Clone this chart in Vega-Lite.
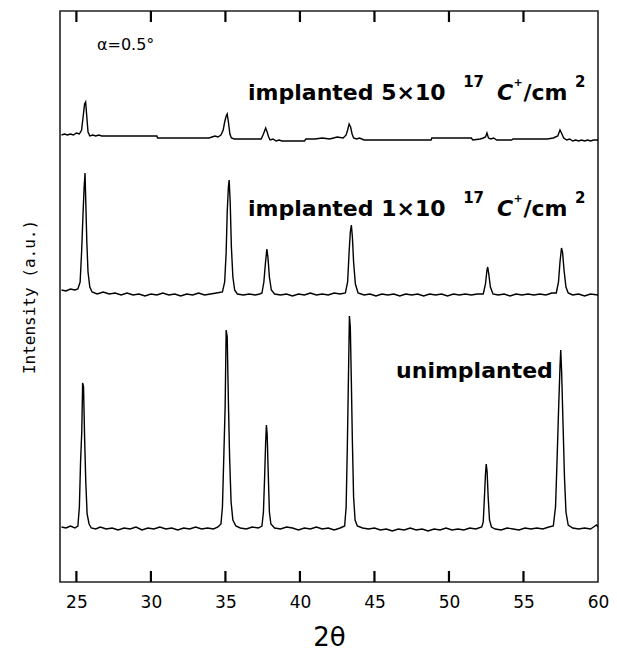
{
  "$schema": "https://vega.github.io/schema/vega-lite/v6.json",
  "width": 538,
  "height": 571,
  "autosize": {"type": "none"},
  "padding": {"left": 60, "top": 11, "right": 19, "bottom": 70},
  "background": "white",
  "config": {
    "view": {"stroke": "#222", "strokeWidth": 1.6},
    "font": "DejaVu Sans"
  },
  "datasets": {
    "xrd": [
      {"s":"u","t":24.0,"i":55},{"s":"u","t":24.3,"i":54},{"s":"u","t":24.6,"i":56},{"s":"u","t":24.9,"i":54},{"s":"u","t":25.1,"i":56},{"s":"u","t":25.2,"i":75},{"s":"u","t":25.28,"i":120},{"s":"u","t":25.36,"i":150},{"s":"u","t":25.42,"i":199},{"s":"u","t":25.48,"i":195},{"s":"u","t":25.55,"i":145},{"s":"u","t":25.63,"i":100},{"s":"u","t":25.72,"i":68},{"s":"u","t":25.85,"i":58},{"s":"u","t":26.0,"i":54},{"s":"u","t":26.3,"i":53},{"s":"u","t":26.6,"i":55},{"s":"u","t":27.0,"i":53},{"s":"u","t":27.4,"i":54},{"s":"u","t":27.8,"i":52},{"s":"u","t":28.2,"i":54},{"s":"u","t":28.6,"i":53},{"s":"u","t":29.0,"i":55},{"s":"u","t":29.4,"i":52},{"s":"u","t":29.8,"i":54},{"s":"u","t":30.2,"i":53},{"s":"u","t":30.6,"i":55},{"s":"u","t":31.0,"i":53},{"s":"u","t":31.4,"i":54},{"s":"u","t":31.8,"i":52},{"s":"u","t":32.2,"i":54},{"s":"u","t":32.6,"i":53},{"s":"u","t":33.0,"i":55},{"s":"u","t":33.4,"i":53},{"s":"u","t":33.8,"i":54},{"s":"u","t":34.2,"i":53},{"s":"u","t":34.5,"i":55},{"s":"u","t":34.7,"i":58},{"s":"u","t":34.8,"i":75},{"s":"u","t":34.9,"i":130},{"s":"u","t":34.98,"i":175},{"s":"u","t":35.05,"i":252},{"s":"u","t":35.12,"i":245},{"s":"u","t":35.2,"i":180},{"s":"u","t":35.28,"i":125},{"s":"u","t":35.38,"i":80},{"s":"u","t":35.5,"i":62},{"s":"u","t":35.7,"i":56},{"s":"u","t":36.0,"i":54},{"s":"u","t":36.4,"i":53},{"s":"u","t":36.8,"i":55},{"s":"u","t":37.2,"i":54},{"s":"u","t":37.45,"i":56},{"s":"u","t":37.55,"i":70},{"s":"u","t":37.63,"i":105},{"s":"u","t":37.7,"i":140},{"s":"u","t":37.75,"i":157},{"s":"u","t":37.8,"i":148},{"s":"u","t":37.87,"i":110},{"s":"u","t":37.95,"i":70},{"s":"u","t":38.05,"i":58},{"s":"u","t":38.3,"i":54},{"s":"u","t":38.7,"i":53},{"s":"u","t":39.1,"i":55},{"s":"u","t":39.5,"i":54},{"s":"u","t":39.9,"i":52},{"s":"u","t":40.3,"i":54},{"s":"u","t":40.7,"i":53},{"s":"u","t":41.1,"i":55},{"s":"u","t":41.5,"i":53},{"s":"u","t":41.9,"i":54},{"s":"u","t":42.3,"i":52},{"s":"u","t":42.7,"i":54},{"s":"u","t":43.0,"i":56},{"s":"u","t":43.1,"i":75},{"s":"u","t":43.18,"i":135},{"s":"u","t":43.25,"i":200},{"s":"u","t":43.32,"i":266},{"s":"u","t":43.38,"i":255},{"s":"u","t":43.45,"i":200},{"s":"u","t":43.52,"i":140},{"s":"u","t":43.6,"i":85},{"s":"u","t":43.7,"i":62},{"s":"u","t":43.85,"i":56},{"s":"u","t":44.2,"i":54},{"s":"u","t":44.6,"i":53},{"s":"u","t":45.0,"i":54},{"s":"u","t":45.4,"i":52},{"s":"u","t":45.8,"i":53},{"s":"u","t":46.2,"i":51},{"s":"u","t":46.6,"i":53},{"s":"u","t":47.0,"i":52},{"s":"u","t":47.4,"i":54},{"s":"u","t":47.8,"i":52},{"s":"u","t":48.2,"i":53},{"s":"u","t":48.6,"i":51},{"s":"u","t":49.0,"i":53},{"s":"u","t":49.4,"i":52},{"s":"u","t":49.8,"i":54},{"s":"u","t":50.2,"i":52},{"s":"u","t":50.6,"i":53},{"s":"u","t":51.0,"i":52},{"s":"u","t":51.4,"i":54},{"s":"u","t":51.8,"i":53},{"s":"u","t":52.2,"i":55},{"s":"u","t":52.3,"i":60},{"s":"u","t":52.38,"i":85},{"s":"u","t":52.45,"i":108},{"s":"u","t":52.5,"i":118},{"s":"u","t":52.56,"i":110},{"s":"u","t":52.63,"i":85},{"s":"u","t":52.72,"i":62},{"s":"u","t":52.85,"i":55},{"s":"u","t":53.1,"i":53},{"s":"u","t":53.5,"i":52},{"s":"u","t":53.9,"i":54},{"s":"u","t":54.3,"i":53},{"s":"u","t":54.7,"i":52},{"s":"u","t":55.1,"i":54},{"s":"u","t":55.5,"i":53},{"s":"u","t":55.9,"i":54},{"s":"u","t":56.3,"i":53},{"s":"u","t":56.7,"i":55},{"s":"u","t":57.0,"i":56},{"s":"u","t":57.15,"i":75},{"s":"u","t":57.25,"i":120},{"s":"u","t":57.35,"i":170},{"s":"u","t":57.45,"i":215},{"s":"u","t":57.5,"i":232},{"s":"u","t":57.56,"i":210},{"s":"u","t":57.65,"i":160},{"s":"u","t":57.75,"i":105},{"s":"u","t":57.85,"i":70},{"s":"u","t":58.0,"i":57},{"s":"u","t":58.3,"i":54},{"s":"u","t":58.7,"i":53},{"s":"u","t":59.1,"i":54},{"s":"u","t":59.5,"i":53},{"s":"u","t":59.8,"i":56},{"s":"u","t":59.9,"i":57},{"s":"u","t":60.0,"i":55},
      {"s":"m","t":24.0,"i":292},{"s":"m","t":24.3,"i":291},{"s":"m","t":24.6,"i":293},{"s":"m","t":24.9,"i":292},{"s":"m","t":25.1,"i":293},{"s":"m","t":25.25,"i":300},{"s":"m","t":25.35,"i":330},{"s":"m","t":25.45,"i":370},{"s":"m","t":25.52,"i":395},{"s":"m","t":25.58,"i":409},{"s":"m","t":25.63,"i":380},{"s":"m","t":25.7,"i":340},{"s":"m","t":25.78,"i":310},{"s":"m","t":25.9,"i":295},{"s":"m","t":26.05,"i":290},{"s":"m","t":26.4,"i":288},{"s":"m","t":26.8,"i":290},{"s":"m","t":27.2,"i":288},{"s":"m","t":27.6,"i":289},{"s":"m","t":28.0,"i":287},{"s":"m","t":28.4,"i":289},{"s":"m","t":28.8,"i":287},{"s":"m","t":29.2,"i":288},{"s":"m","t":29.6,"i":286},{"s":"m","t":30.0,"i":288},{"s":"m","t":30.4,"i":287},{"s":"m","t":30.8,"i":289},{"s":"m","t":31.2,"i":287},{"s":"m","t":31.6,"i":288},{"s":"m","t":32.0,"i":286},{"s":"m","t":32.4,"i":288},{"s":"m","t":32.8,"i":287},{"s":"m","t":33.2,"i":289},{"s":"m","t":33.6,"i":287},{"s":"m","t":34.0,"i":288},{"s":"m","t":34.4,"i":289},{"s":"m","t":34.8,"i":290},{"s":"m","t":34.95,"i":300},{"s":"m","t":35.05,"i":330},{"s":"m","t":35.12,"i":370},{"s":"m","t":35.2,"i":395},{"s":"m","t":35.25,"i":402},{"s":"m","t":35.32,"i":380},{"s":"m","t":35.4,"i":335},{"s":"m","t":35.5,"i":305},{"s":"m","t":35.62,"i":292},{"s":"m","t":35.8,"i":288},{"s":"m","t":36.2,"i":287},{"s":"m","t":36.6,"i":288},{"s":"m","t":37.0,"i":287},{"s":"m","t":37.3,"i":288},{"s":"m","t":37.45,"i":289},{"s":"m","t":37.58,"i":300},{"s":"m","t":37.68,"i":318},{"s":"m","t":37.78,"i":333},{"s":"m","t":37.85,"i":325},{"s":"m","t":37.95,"i":305},{"s":"m","t":38.08,"i":292},{"s":"m","t":38.3,"i":288},{"s":"m","t":38.7,"i":287},{"s":"m","t":39.1,"i":288},{"s":"m","t":39.5,"i":286},{"s":"m","t":39.9,"i":288},{"s":"m","t":40.3,"i":287},{"s":"m","t":40.7,"i":289},{"s":"m","t":41.1,"i":287},{"s":"m","t":41.5,"i":288},{"s":"m","t":41.9,"i":287},{"s":"m","t":42.3,"i":289},{"s":"m","t":42.7,"i":288},{"s":"m","t":43.05,"i":289},{"s":"m","t":43.2,"i":300},{"s":"m","t":43.3,"i":330},{"s":"m","t":43.38,"i":350},{"s":"m","t":43.45,"i":357},{"s":"m","t":43.52,"i":345},{"s":"m","t":43.6,"i":320},{"s":"m","t":43.72,"i":298},{"s":"m","t":43.9,"i":289},{"s":"m","t":44.3,"i":287},{"s":"m","t":44.7,"i":288},{"s":"m","t":45.1,"i":286},{"s":"m","t":45.5,"i":288},{"s":"m","t":45.9,"i":287},{"s":"m","t":46.3,"i":288},{"s":"m","t":46.7,"i":286},{"s":"m","t":47.1,"i":288},{"s":"m","t":47.5,"i":287},{"s":"m","t":47.9,"i":288},{"s":"m","t":48.3,"i":286},{"s":"m","t":48.7,"i":288},{"s":"m","t":49.1,"i":287},{"s":"m","t":49.5,"i":288},{"s":"m","t":49.9,"i":286},{"s":"m","t":50.3,"i":288},{"s":"m","t":50.7,"i":287},{"s":"m","t":51.1,"i":288},{"s":"m","t":51.5,"i":287},{"s":"m","t":51.9,"i":288},{"s":"m","t":52.3,"i":288},{"s":"m","t":52.45,"i":298},{"s":"m","t":52.55,"i":312},{"s":"m","t":52.6,"i":315},{"s":"m","t":52.67,"i":308},{"s":"m","t":52.78,"i":295},{"s":"m","t":52.95,"i":288},{"s":"m","t":53.3,"i":287},{"s":"m","t":53.7,"i":288},{"s":"m","t":54.1,"i":286},{"s":"m","t":54.5,"i":288},{"s":"m","t":54.9,"i":287},{"s":"m","t":55.3,"i":288},{"s":"m","t":55.7,"i":287},{"s":"m","t":56.1,"i":288},{"s":"m","t":56.5,"i":287},{"s":"m","t":56.9,"i":289},{"s":"m","t":57.2,"i":289},{"s":"m","t":57.35,"i":300},{"s":"m","t":57.45,"i":320},{"s":"m","t":57.55,"i":334},{"s":"m","t":57.62,"i":330},{"s":"m","t":57.72,"i":312},{"s":"m","t":57.85,"i":295},{"s":"m","t":58.0,"i":289},{"s":"m","t":58.3,"i":287},{"s":"m","t":58.7,"i":288},{"s":"m","t":59.1,"i":286},{"s":"m","t":59.5,"i":288},{"s":"m","t":60.0,"i":287},
      {"s":"t","t":24.0,"i":447},{"s":"t","t":24.2,"i":448},{"s":"t","t":24.4,"i":447},{"s":"t","t":24.6,"i":448},{"s":"t","t":24.8,"i":447},{"s":"t","t":25.0,"i":449},{"s":"t","t":25.2,"i":448},{"s":"t","t":25.35,"i":452},{"s":"t","t":25.45,"i":465},{"s":"t","t":25.55,"i":478},{"s":"t","t":25.62,"i":480},{"s":"t","t":25.7,"i":465},{"s":"t","t":25.78,"i":450},{"s":"t","t":25.9,"i":446},{"s":"t","t":26.1,"i":447},{"s":"t","t":26.3,"i":446},{"s":"t","t":26.5,"i":447},{"s":"t","t":26.7,"i":446},{"s":"t","t":26.9,"i":446},{"s":"t","t":30.4,"i":446},{"s":"t","t":30.45,"i":444},{"s":"t","t":33.9,"i":444},{"s":"t","t":34.1,"i":445},{"s":"t","t":34.3,"i":446},{"s":"t","t":34.5,"i":445},{"s":"t","t":34.7,"i":447},{"s":"t","t":34.85,"i":452},{"s":"t","t":34.95,"i":460},{"s":"t","t":35.05,"i":466},{"s":"t","t":35.12,"i":468},{"s":"t","t":35.2,"i":460},{"s":"t","t":35.3,"i":448},{"s":"t","t":35.4,"i":444},{"s":"t","t":35.6,"i":443},{"s":"t","t":37.4,"i":443},{"s":"t","t":37.55,"i":448},{"s":"t","t":37.7,"i":454},{"s":"t","t":37.8,"i":450},{"s":"t","t":37.9,"i":445},{"s":"t","t":38.0,"i":442},{"s":"t","t":38.2,"i":443},{"s":"t","t":38.4,"i":441},{"s":"t","t":38.6,"i":442},{"s":"t","t":38.8,"i":441},{"s":"t","t":40.3,"i":441},{"s":"t","t":40.4,"i":443},{"s":"t","t":41.0,"i":443},{"s":"t","t":41.5,"i":444},{"s":"t","t":42.0,"i":443},{"s":"t","t":42.5,"i":445},{"s":"t","t":42.9,"i":444},{"s":"t","t":43.1,"i":447},{"s":"t","t":43.2,"i":452},{"s":"t","t":43.3,"i":458},{"s":"t","t":43.4,"i":455},{"s":"t","t":43.5,"i":448},{"s":"t","t":43.6,"i":444},{"s":"t","t":43.8,"i":443},{"s":"t","t":44.0,"i":444},{"s":"t","t":44.3,"i":442},{"s":"t","t":48.8,"i":442},{"s":"t","t":48.85,"i":444},{"s":"t","t":51.5,"i":444},{"s":"t","t":51.6,"i":442},{"s":"t","t":52.1,"i":443},{"s":"t","t":52.3,"i":444},{"s":"t","t":52.45,"i":445},{"s":"t","t":52.55,"i":449},{"s":"t","t":52.65,"i":444},{"s":"t","t":52.8,"i":443},{"s":"t","t":53.0,"i":444},{"s":"t","t":53.2,"i":442},{"s":"t","t":54.2,"i":442},{"s":"t","t":54.3,"i":443},{"s":"t","t":56.6,"i":443},{"s":"t","t":57.0,"i":444},{"s":"t","t":57.3,"i":446},{"s":"t","t":57.45,"i":452},{"s":"t","t":57.55,"i":449},{"s":"t","t":57.7,"i":444},{"s":"t","t":57.9,"i":442},{"s":"t","t":58.1,"i":443},{"s":"t","t":58.3,"i":441},{"s":"t","t":58.5,"i":442},{"s":"t","t":58.7,"i":441},{"s":"t","t":58.9,"i":442},{"s":"t","t":59.1,"i":441},{"s":"t","t":59.3,"i":442},{"s":"t","t":59.5,"i":441},{"s":"t","t":59.7,"i":442},{"s":"t","t":60.0,"i":442}
    ],
    "tickmarks": [
      {"pos": 25, "lo": 0, "hi": 11}, {"pos": 30, "lo": 0, "hi": 11}, {"pos": 35, "lo": 0, "hi": 11}, {"pos": 40, "lo": 0, "hi": 11}, {"pos": 45, "lo": 0, "hi": 11}, {"pos": 50, "lo": 0, "hi": 11}, {"pos": 55, "lo": 0, "hi": 11},
      {"pos": 25, "lo": 560, "hi": 571}, {"pos": 30, "lo": 560, "hi": 571}, {"pos": 35, "lo": 560, "hi": 571}, {"pos": 40, "lo": 560, "hi": 571}, {"pos": 45, "lo": 560, "hi": 571}, {"pos": 50, "lo": 560, "hi": 571}, {"pos": 55, "lo": 560, "hi": 571}
    ],
    "labels": [
      {"x": 36.52, "y": 482, "text": "implanted 5×10"},
      {"x": 36.52, "y": 366, "text": "implanted 1×10"},
      {"x": 55.0, "y": 482, "text": "/cm"},
      {"x": 55.0, "y": 366, "text": "/cm"},
      {"x": 46.45, "y": 204, "text": "unimplanted"}
    ],
    "ital": [
      {"x": 53.23, "y": 482, "text": "C"},
      {"x": 53.23, "y": 366, "text": "C"}
    ],
    "sups": [
      {"x": 50.95, "y": 495, "text": "17"},
      {"x": 50.95, "y": 379, "text": "17"},
      {"x": 58.45, "y": 495, "text": "2"},
      {"x": 58.45, "y": 379, "text": "2"}
    ],
    "plus": [
      {"x": 54.33, "y": 496, "text": "+"},
      {"x": 54.33, "y": 380, "text": "+"}
    ],
    "note": [
      {"x": 26.38, "y": 532, "text": "α=0.5°"}
    ]
  },
  "layer": [
    {
      "data": {"name": "xrd"},
      "mark": {"type": "line", "color": "black", "strokeWidth": 1.4},
      "encoding": {
        "x": {"field": "t", "type": "quantitative",
          "scale": {"domain": [23.9, 60], "nice": false, "zero": false},
          "axis": {"orient": "bottom", "values": [25,30,35,40,45,50,55,60], "ticks": false,
            "labelPadding": 12, "labelFontSize": 17, "labelColor": "black", "labelFlush": false,
            "domain": false, "grid": false, "title": "2θ", "titleFontSize": 26, "titleFontWeight": "normal", "titleColor": "black", "titlePadding": 14}},
        "y": {"field": "i", "type": "quantitative",
          "scale": {"domain": [0, 571], "nice": false},
          "axis": {"title": "Intensity (a.u.)", "labels": false, "ticks": false, "domain": false, "grid": false,
            "titleFont": "DejaVu Sans Mono", "titleFontSize": 16, "titleFontWeight": "normal", "titleColor": "black", "titlePadding": 23}},
        "detail": {"field": "s"}
      }
    },
    {
      "data": {"name": "tickmarks"},
      "mark": {"type": "rule", "color": "black", "strokeWidth": 2.2},
      "encoding": {
        "x": {"field": "pos", "type": "quantitative"},
        "y": {"field": "lo", "type": "quantitative"},
        "y2": {"field": "hi"}
      }
    },
    {
      "data": {"name": "labels"},
      "mark": {"type": "text", "align": "left", "baseline": "alphabetic", "fontSize": 22, "fontWeight": "bold", "color": "black"},
      "encoding": {
        "x": {"field": "x", "type": "quantitative"},
        "y": {"field": "y", "type": "quantitative"},
        "text": {"field": "text"}
      }
    },
    {
      "data": {"name": "ital"},
      "mark": {"type": "text", "align": "left", "baseline": "alphabetic", "fontSize": 22, "fontWeight": "bold", "fontStyle": "italic", "color": "black"},
      "encoding": {
        "x": {"field": "x", "type": "quantitative"},
        "y": {"field": "y", "type": "quantitative"},
        "text": {"field": "text"}
      }
    },
    {
      "data": {"name": "sups"},
      "mark": {"type": "text", "align": "left", "baseline": "alphabetic", "fontSize": 15, "fontWeight": "bold", "color": "black"},
      "encoding": {
        "x": {"field": "x", "type": "quantitative"},
        "y": {"field": "y", "type": "quantitative"},
        "text": {"field": "text"}
      }
    },
    {
      "data": {"name": "plus"},
      "mark": {"type": "text", "align": "left", "baseline": "alphabetic", "fontSize": 11, "fontWeight": "bold", "color": "black"},
      "encoding": {
        "x": {"field": "x", "type": "quantitative"},
        "y": {"field": "y", "type": "quantitative"},
        "text": {"field": "text"}
      }
    },
    {
      "data": {"name": "note"},
      "mark": {"type": "text", "align": "left", "baseline": "alphabetic", "fontSize": 16, "color": "black"},
      "encoding": {
        "x": {"field": "x", "type": "quantitative"},
        "y": {"field": "y", "type": "quantitative"},
        "text": {"field": "text"}
      }
    }
  ]
}
